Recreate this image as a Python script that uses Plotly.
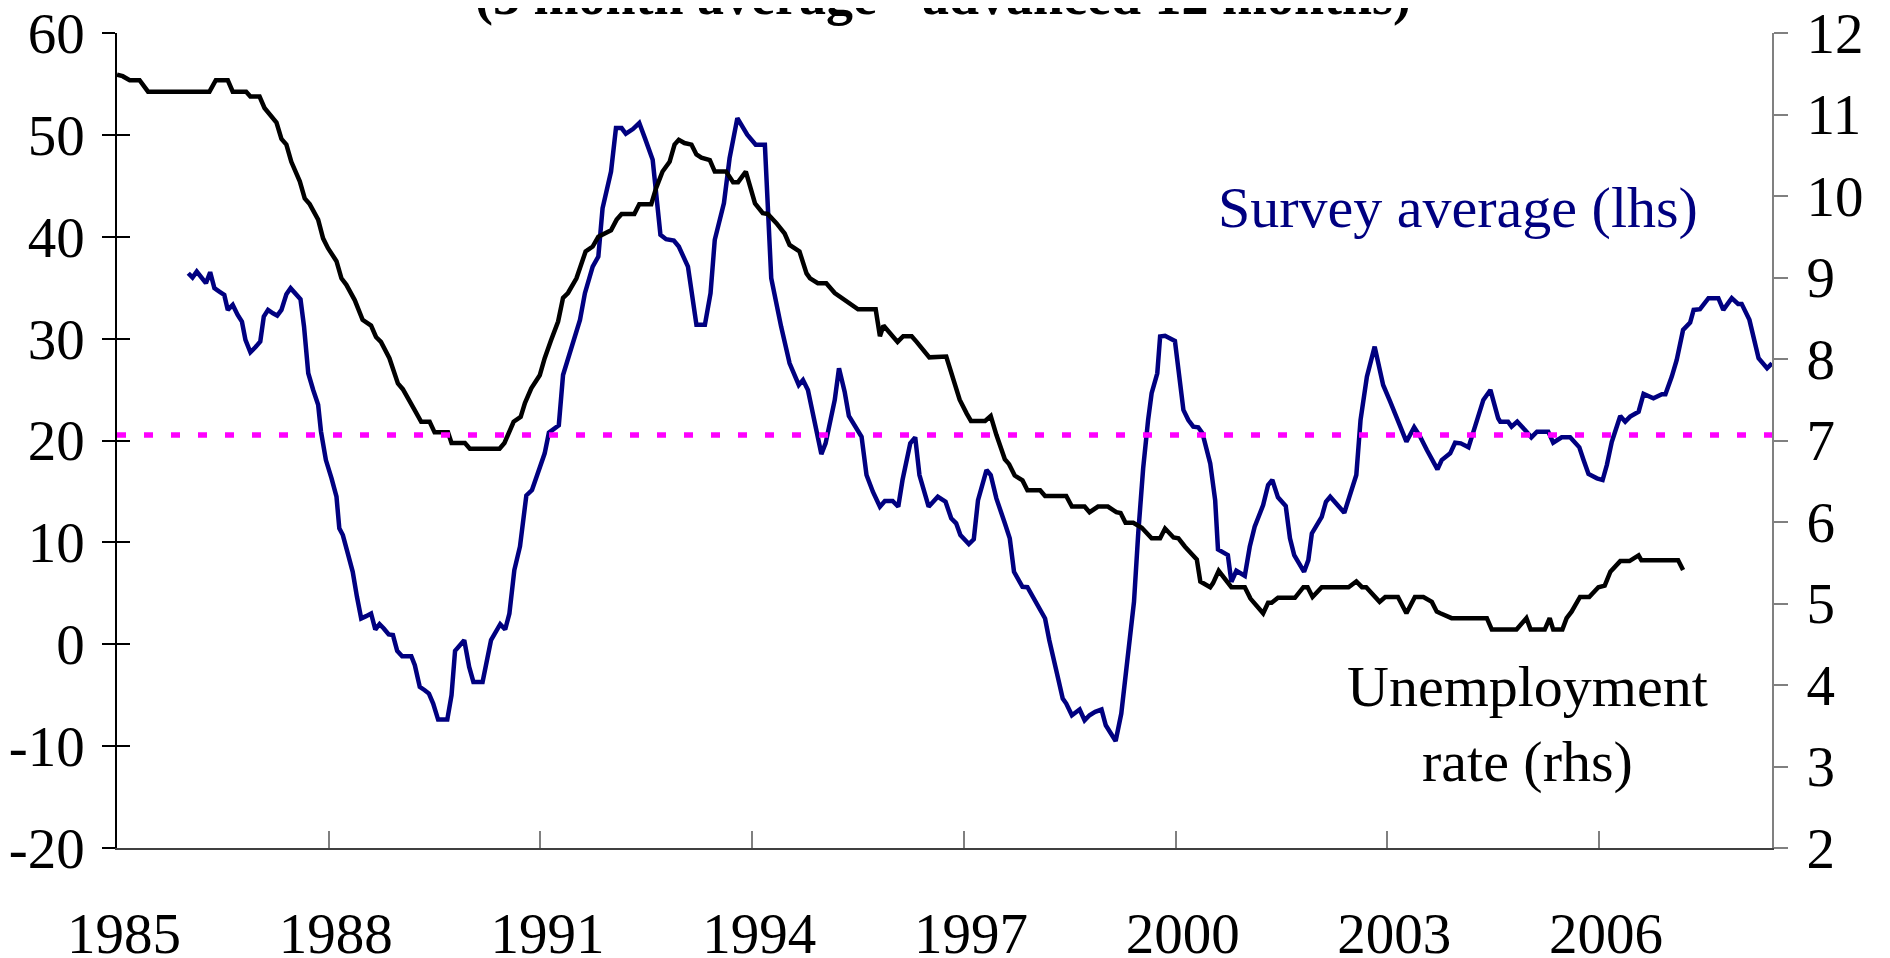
import plotly.graph_objects as go

# ---- data (fractional year, value) ----
unemployment_rate = [  # right-hand axis, %
    (1985.00, 11.49), (1985.08, 11.47), (1985.18, 11.42), (1985.32, 11.42), (1985.44, 11.28),
    (1986.31, 11.28), (1986.40, 11.42), (1986.57, 11.42), (1986.64, 11.28), (1986.83, 11.28),
    (1986.89, 11.22), (1987.02, 11.22), (1987.09, 11.08), (1987.16, 11.01), (1987.26, 10.90),
    (1987.33, 10.70), (1987.40, 10.63), (1987.47, 10.42), (1987.59, 10.18), (1987.66, 9.97),
    (1987.73, 9.90), (1987.85, 9.71), (1987.92, 9.48), (1987.99, 9.36), (1988.11, 9.20),
    (1988.18, 8.99), (1988.25, 8.91), (1988.37, 8.72), (1988.48, 8.48), (1988.60, 8.41),
    (1988.67, 8.27), (1988.74, 8.21), (1988.86, 8.01), (1988.98, 7.70), (1989.05, 7.63),
    (1989.22, 7.37), (1989.31, 7.23), (1989.43, 7.23), (1989.50, 7.10), (1989.69, 7.10),
    (1989.74, 6.97), (1989.93, 6.97), (1990.00, 6.90), (1990.42, 6.90), (1990.49, 6.97),
    (1990.62, 7.23), (1990.72, 7.29), (1990.78, 7.46), (1990.87, 7.64), (1990.99, 7.80),
    (1991.06, 8.01), (1991.15, 8.23), (1991.25, 8.46), (1991.32, 8.75), (1991.39, 8.81),
    (1991.51, 8.99), (1991.58, 9.18), (1991.64, 9.32), (1991.74, 9.38), (1991.82, 9.50),
    (1992.00, 9.58), (1992.08, 9.71), (1992.15, 9.78), (1992.33, 9.78), (1992.40, 9.90),
    (1992.57, 9.90), (1992.64, 10.10), (1992.73, 10.30), (1992.83, 10.42), (1992.90, 10.63),
    (1992.96, 10.69), (1993.04, 10.65), (1993.14, 10.63), (1993.21, 10.51), (1993.28, 10.47),
    (1993.40, 10.44), (1993.47, 10.30), (1993.63, 10.30), (1993.73, 10.17), (1993.80, 10.17),
    (1993.91, 10.30), (1994.04, 9.91), (1994.15, 9.79), (1994.22, 9.78), (1994.34, 9.67),
    (1994.46, 9.54), (1994.53, 9.40), (1994.67, 9.32), (1994.77, 9.05), (1994.82, 8.99),
    (1994.93, 8.93), (1995.05, 8.93), (1995.17, 8.81), (1995.31, 8.73), (1995.50, 8.61),
    (1995.75, 8.61), (1995.81, 8.28), (1995.86, 8.41), (1996.06, 8.21), (1996.14, 8.28),
    (1996.26, 8.28), (1996.33, 8.21), (1996.51, 8.02), (1996.75, 8.03), (1996.82, 7.82),
    (1996.94, 7.50), (1997.04, 7.33), (1997.10, 7.24), (1997.30, 7.24), (1997.38, 7.30),
    (1997.46, 7.07), (1997.58, 6.77), (1997.64, 6.71), (1997.72, 6.57), (1997.83, 6.51),
    (1997.90, 6.39), (1998.08, 6.39), (1998.15, 6.32), (1998.45, 6.32), (1998.53, 6.19),
    (1998.71, 6.19), (1998.78, 6.12), (1998.90, 6.19), (1999.04, 6.19), (1999.16, 6.12),
    (1999.22, 6.11), (1999.29, 5.99), (1999.40, 5.99), (1999.52, 5.93), (1999.66, 5.80),
    (1999.78, 5.80), (1999.85, 5.92), (1999.97, 5.81), (2000.04, 5.80), (2000.13, 5.70),
    (2000.30, 5.54), (2000.35, 5.27), (2000.49, 5.20), (2000.53, 5.25), (2000.61, 5.40),
    (2000.79, 5.20), (2000.98, 5.20), (2001.06, 5.06), (2001.24, 4.88), (2001.31, 5.01),
    (2001.36, 5.01), (2001.45, 5.07), (2001.69, 5.07), (2001.81, 5.20), (2001.87, 5.20),
    (2001.94, 5.08), (2002.07, 5.20), (2002.45, 5.20), (2002.56, 5.27), (2002.64, 5.20),
    (2002.70, 5.20), (2002.89, 5.02), (2002.97, 5.08), (2003.15, 5.08), (2003.27, 4.88),
    (2003.39, 5.08), (2003.51, 5.08), (2003.63, 5.02), (2003.70, 4.90), (2003.75, 4.88),
    (2003.91, 4.82), (2004.41, 4.82), (2004.48, 4.68), (2004.83, 4.68), (2004.97, 4.82),
    (2005.03, 4.68), (2005.23, 4.68), (2005.30, 4.82), (2005.35, 4.68), (2005.48, 4.68),
    (2005.54, 4.82), (2005.61, 4.90), (2005.73, 5.08), (2005.86, 5.08), (2005.99, 5.20),
    (2006.08, 5.22), (2006.16, 5.39), (2006.30, 5.52), (2006.43, 5.52), (2006.56, 5.59),
    (2006.60, 5.53), (2007.12, 5.53), (2007.19, 5.41),
]

survey_expectations = [  # left-hand axis, net balance
    (1986.01, 36.42), (1986.07, 35.99), (1986.13, 36.58), (1986.19, 36.09), (1986.26, 35.44),
    (1986.32, 36.52), (1986.38, 34.95), (1986.45, 34.62), (1986.52, 34.29), (1986.57, 32.82),
    (1986.64, 33.31), (1986.71, 32.33), (1986.77, 31.67), (1986.82, 29.87), (1986.89, 28.66),
    (1986.96, 29.15), (1987.03, 29.71), (1987.08, 32.17), (1987.14, 32.82), (1987.21, 32.49),
    (1987.27, 32.26), (1987.33, 32.82), (1987.40, 34.36), (1987.46, 34.95), (1987.53, 34.39),
    (1987.60, 33.87), (1987.65, 31.18), (1987.71, 26.60), (1987.78, 24.96), (1987.85, 23.50),
    (1987.89, 20.90), (1987.96, 18.08), (1988.04, 16.29), (1988.11, 14.48), (1988.15, 11.37),
    (1988.20, 10.72), (1988.27, 8.92), (1988.34, 7.11), (1988.40, 4.66), (1988.46, 2.53),
    (1988.53, 2.76), (1988.60, 3.02), (1988.66, 1.45), (1988.72, 1.97), (1988.78, 1.55),
    (1988.85, 0.96), (1988.91, 0.90), (1988.97, -0.65), (1989.04, -1.17), (1989.17, -1.17),
    (1989.22, -2.05), (1989.29, -4.19), (1989.36, -4.51), (1989.42, -4.84), (1989.48, -5.82),
    (1989.55, -7.39), (1989.68, -7.39), (1989.74, -5.00), (1989.79, -0.65), (1989.85, -0.09),
    (1989.92, 0.40), (1989.99, -2.22), (1990.05, -3.70), (1990.18, -3.70), (1990.23, -1.89),
    (1990.30, 0.40), (1990.43, 1.97), (1990.50, 1.45), (1990.56, 3.02), (1990.63, 7.28),
    (1990.71, 9.60), (1990.80, 14.60), (1990.88, 15.14), (1990.96, 16.78), (1991.06, 18.74),
    (1991.12, 20.77), (1991.26, 21.50), (1991.32, 26.43), (1991.44, 29.21), (1991.56, 31.84),
    (1991.63, 34.46), (1991.74, 37.07), (1991.82, 38.06), (1991.88, 42.80), (1992.00, 46.40),
    (1992.07, 50.67), (1992.15, 50.67), (1992.21, 50.11), (1992.31, 50.57), (1992.40, 51.16),
    (1992.48, 49.68), (1992.59, 47.55), (1992.70, 40.19), (1992.78, 39.76), (1992.89, 39.63),
    (1992.96, 39.04), (1993.09, 37.07), (1993.21, 31.35), (1993.33, 31.35), (1993.41, 34.46),
    (1993.47, 39.70), (1993.60, 43.30), (1993.68, 47.72), (1993.79, 51.65), (1993.93, 50.01),
    (1994.05, 49.03), (1994.18, 49.03), (1994.27, 35.93), (1994.41, 31.18), (1994.53, 27.58),
    (1994.66, 25.45), (1994.72, 25.94), (1994.79, 24.96), (1994.90, 21.36), (1994.98, 18.67),
    (1995.04, 19.72), (1995.17, 23.98), (1995.23, 27.09), (1995.31, 24.80), (1995.37, 22.41),
    (1995.48, 21.03), (1995.55, 20.37), (1995.62, 16.61), (1995.71, 14.97), (1995.81, 13.50),
    (1995.88, 14.06), (1995.99, 14.06), (1996.07, 13.50), (1996.13, 16.12), (1996.24, 19.72),
    (1996.31, 20.31), (1996.37, 16.61), (1996.50, 13.50), (1996.63, 14.48), (1996.74, 13.99),
    (1996.82, 12.36), (1996.89, 11.87), (1996.95, 10.72), (1997.07, 9.83), (1997.14, 10.30),
    (1997.20, 14.15), (1997.32, 17.10), (1997.38, 16.61), (1997.46, 14.32), (1997.58, 11.87),
    (1997.65, 10.39), (1997.71, 7.11), (1997.83, 5.64), (1997.90, 5.60), (1997.98, 4.66),
    (1998.08, 3.52), (1998.15, 2.53), (1998.21, 0.40), (1998.27, -1.24), (1998.34, -3.52),
    (1998.40, -5.33), (1998.45, -5.82), (1998.53, -6.97), (1998.64, -6.41), (1998.71, -7.46),
    (1998.78, -6.97), (1998.86, -6.64), (1998.95, -6.41), (1999.01, -7.95), (1999.08, -8.76),
    (1999.15, -9.49), (1999.23, -6.80), (1999.30, -2.22), (1999.41, 4.17), (1999.47, 10.88),
    (1999.54, 17.27), (1999.61, 22.01), (1999.66, 24.64), (1999.74, 26.60), (1999.78, 30.20),
    (1999.85, 30.27), (1999.99, 29.77), (2000.11, 23.00), (2000.18, 22.01), (2000.25, 21.36),
    (2000.32, 21.30), (2000.38, 20.71), (2000.49, 17.76), (2000.56, 14.15), (2000.60, 9.31),
    (2000.74, 8.75), (2000.79, 6.13), (2000.86, 7.21), (2000.98, 6.72), (2001.05, 9.57),
    (2001.12, 11.53), (2001.24, 13.66), (2001.31, 15.63), (2001.37, 16.12), (2001.45, 14.42),
    (2001.56, 13.57), (2001.62, 10.39), (2001.68, 8.75), (2001.82, 7.11), (2001.88, 8.26),
    (2001.93, 10.88), (2002.00, 11.70), (2002.07, 12.51), (2002.13, 13.99), (2002.19, 14.48),
    (2002.39, 12.91), (2002.47, 14.65), (2002.56, 16.61), (2002.62, 22.01), (2002.71, 26.27),
    (2002.82, 29.21), (2002.94, 25.45), (2003.04, 23.81), (2003.13, 22.30), (2003.23, 20.54),
    (2003.27, 19.88), (2003.38, 21.30), (2003.46, 20.44), (2003.56, 19.07), (2003.63, 18.25),
    (2003.71, 17.17), (2003.77, 18.08), (2003.89, 18.74), (2003.96, 19.78), (2004.04, 19.72),
    (2004.15, 19.33), (2004.26, 21.69), (2004.36, 23.98), (2004.46, 24.96), (2004.57, 22.18),
    (2004.60, 21.85), (2004.71, 21.85), (2004.76, 21.36), (2004.84, 21.85), (2004.95, 21.03),
    (2005.04, 20.31), (2005.12, 20.87), (2005.28, 20.87), (2005.35, 19.78), (2005.47, 20.31),
    (2005.59, 20.31), (2005.72, 19.33), (2005.78, 18.08), (2005.85, 16.71), (2005.97, 16.29),
    (2006.05, 16.12), (2006.11, 17.59), (2006.18, 19.88), (2006.30, 22.41), (2006.37, 21.85),
    (2006.44, 22.34), (2006.56, 22.83), (2006.63, 24.57), (2006.77, 24.14), (2006.89, 24.54),
    (2006.94, 24.54), (2007.03, 26.27), (2007.10, 27.91), (2007.19, 30.85), (2007.29, 31.57),
    (2007.34, 32.82), (2007.43, 32.89), (2007.55, 33.97), (2007.69, 33.97), (2007.76, 32.82),
    (2007.88, 33.97), (2007.97, 33.41), (2008.02, 33.41), (2008.13, 31.84), (2008.19, 30.20),
    (2008.26, 28.07), (2008.38, 27.09), (2008.45, 27.58),
]

survey_long_run_average = 20.55

x_ticks = [1985, 1988, 1991, 1994, 1997, 2000, 2003, 2006]
x_ticktext = [str(v) for v in x_ticks]
left_ticks = [-20, -10, 0, 10, 20, 30, 40, 50, 60]
left_ticktext = [str(v) for v in left_ticks]
right_ticks = [2, 3, 4, 5, 6, 7, 8, 9, 10, 11, 12]
right_ticktext = [str(v) for v in right_ticks]
x_range = [1985.0, 2008.45]

title_text = "(3 month average - advanced 12 months)"
survey_label = "Survey average (lhs)"
unemp_label = "Unemployment<br>rate (rhs)"

SERIF = "Liberation Serif, Times New Roman, serif"
NAVY = "#000080"

fig = go.Figure()
fig.add_trace(go.Scatter(
    x=[p[0] for p in unemployment_rate], y=[p[1] for p in unemployment_rate],
    mode="lines", line=dict(color="black", width=4.5), yaxis="y2", hoverinfo="skip"))
fig.add_trace(go.Scatter(
    x=[p[0] for p in survey_expectations], y=[p[1] for p in survey_expectations],
    mode="lines", line=dict(color=NAVY, width=4.5), yaxis="y", hoverinfo="skip"))
fig.add_trace(go.Scatter(
    x=x_range, y=[survey_long_run_average, survey_long_run_average],
    mode="lines", line=dict(color="#FF00FF", width=5.5, dash="9px,18px"),
    yaxis="y3", hoverinfo="skip"))

tickfont = dict(family=SERIF, size=57, color="black")

# The page body has an 8px default margin; the figure is offset by it.
fig.update_layout(
    width=1882, height=950,
    margin=dict(l=109, r=118, t=25, b=110, autoexpand=False),
    paper_bgcolor="white", plot_bgcolor="white",
    showlegend=False,
    xaxis=dict(range=x_range, tickvals=x_ticks, ticktext=x_ticktext,
               ticks="inside", ticklen=17, tickcolor="#808080", tickwidth=1.5,
               showline=True, linecolor="#404040", linewidth=2,
               showgrid=False, zeroline=False, tickfont=tickfont,
               ticklabelstandoff=35, ticklabelshift=7, automargin=False,
               ticklabeloverflow="allow"),
    yaxis=dict(range=[-20, 60], tickvals=left_ticks, ticktext=left_ticktext,
               ticks="outside", ticklen=13, tickcolor="black", tickwidth=1.5,
               showline=True, linecolor="black", linewidth=1.5,
               showgrid=False, zeroline=False, tickfont=tickfont,
               ticklabelstandoff=6, automargin=False, ticklabeloverflow="allow"),
    yaxis2=dict(range=[2, 12], tickvals=right_ticks, ticktext=right_ticktext,
                overlaying="y", side="right", anchor="x",
                ticks="outside", ticklen=14, tickcolor="#808080", tickwidth=1.5,
                showline=True, linecolor="#808080", linewidth=2,
                showgrid=False, zeroline=False, tickfont=tickfont,
                ticklabelstandoff=7, automargin=False, ticklabeloverflow="allow"),
    yaxis3=dict(range=[-20, 60], tickvals=left_ticks, overlaying="y", side="left",
                anchor="x", ticks="inside", ticklen=13, tickcolor="black", tickwidth=1.5,
                showticklabels=False, showline=False, showgrid=False, zeroline=False,
                automargin=False),
    annotations=[
        dict(text="<b>" + title_text + "</b>", xref="paper", yref="paper",
             x=0.499, y=1.0454, xanchor="center", yanchor="middle", showarrow=False,
             font=dict(family=SERIF, size=54, color="black")),
        dict(text=survey_label, xref="x", yref="y", x=2004.0, y=42.9,
             xanchor="center", yanchor="middle", showarrow=False,
             font=dict(family=SERIF, size=58, color=NAVY)),
        dict(text=unemp_label, xref="x", yref="y2", x=2004.98, y=3.52,
             xanchor="center", yanchor="middle", showarrow=False, align="center",
             font=dict(family=SERIF, size=58, color="black")),
    ],
)

fig.write_html("out.html")
